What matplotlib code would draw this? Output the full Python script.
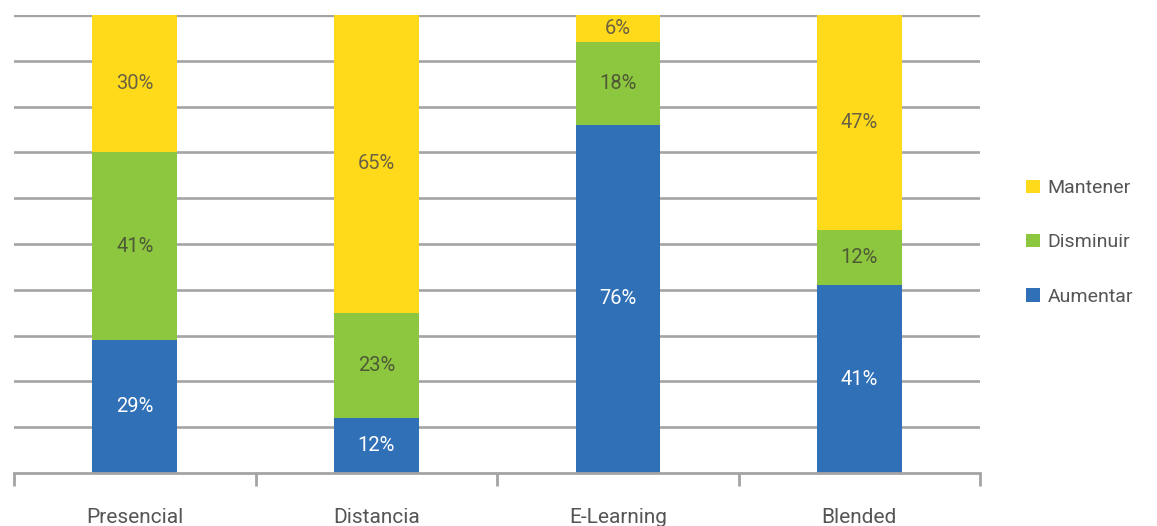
import matplotlib.pyplot as plt
import numpy as np

categories = ['Presencial', 'Distancia', 'E-Learning', 'Blended']
aumentar = [29, 12, 76, 41]
disminuir = [41, 23, 18, 12]
mantener = [30, 65, 6, 47]

plt.rcParams['font.family'] = ['Roboto', 'DejaVu Sans']

fig = plt.figure(figsize=(11.57, 5.26), dpi=100)
ax = fig.add_axes([0.0121, 0.1008, 0.835, 0.8707])

x = np.arange(len(categories))
w = 0.35
blue, green, yellow = '#3070b7', '#8dc63f', '#ffda1a'

# gridlines behind the bars
for yv in range(10, 101, 10):
    ax.axhline(yv, color='#a4a4a4', lw=2.4 if yv == 100 else 1.9, zorder=0)

b1 = ax.bar(x, aumentar, w, color=blue, label='Aumentar', zorder=2)
b2 = ax.bar(x, disminuir, w, bottom=aumentar, color=green, label='Disminuir', zorder=2)
bottom3 = [a + d for a, d in zip(aumentar, disminuir)]
b3 = ax.bar(x, mantener, w, bottom=bottom3, color=yellow, label='Mantener', zorder=2)

for i in range(len(categories)):
    ax.text(x[i], aumentar[i] / 2, f'{aumentar[i]}%', ha='center', va='center',
            color='white', fontsize=14.5, zorder=3)
    ax.text(x[i], aumentar[i] + disminuir[i] / 2, f'{disminuir[i]}%', ha='center', va='center',
            color='#4e5a36', fontsize=14.5, zorder=3)
    ax.text(x[i], bottom3[i] + mantener[i] / 2, f'{mantener[i]}%', ha='center', va='center',
            color='#6a6242', fontsize=14.5, zorder=3)

ax.set_xlim(-0.5, 3.5)
ax.set_ylim(0, 100)
for s in ['top', 'right', 'left']:
    ax.spines[s].set_visible(False)
ax.spines['bottom'].set_color('#a4a4a4')
ax.spines['bottom'].set_linewidth(2)
ax.set_yticks([])

# boundary ticks between categories
ax.set_xticks(np.arange(-0.5, 4, 1))
ax.set_xticklabels([])
ax.tick_params(axis='x', length=9, width=2, color='#a4a4a4', direction='out')
ax.set_xticks(x, minor=True)
ax.set_xticklabels(categories, minor=True, fontsize=15, color='#555555')
ax.tick_params(axis='x', which='minor', length=0, pad=25)

handles = [b3, b2, b1]
leg = fig.legend(handles, ['Mantener', 'Disminuir', 'Aumentar'], loc='center left',
                 bbox_to_anchor=(0.872, 0.539), frameon=False, fontsize=14,
                 handlelength=0.7, handleheight=0.7, handletextpad=0.4,
                 labelspacing=1.86, labelcolor='#555555')

fig.savefig('out.png', dpi=100)
